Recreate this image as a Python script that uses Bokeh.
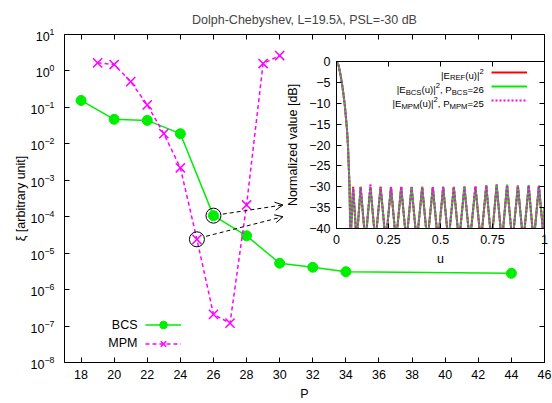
from bokeh.plotting import figure
from bokeh.models import (LinearAxis, LogAxis, FixedTicker, Legend, LegendItem,
                          Label, Arrow, OpenHead, Range1d, CustomJSTickFormatter)
from bokeh.layouts import column
from bokeh.embed import file_html
from bokeh.resources import INLINE

FONT = "Liberation Sans"

# ---------------- data ----------------
title_text = "Dolph-Chebyshev, L=19.5\u03bb, PSL=-30 dB"

bcs_P = [18, 20, 22, 24, 26, 28, 30, 32, 34, 44]
bcs_xi = [0.155, 0.047, 0.044, 0.019, 1.07e-4, 3.0e-5, 5.3e-6, 4.1e-6, 3.1e-6, 2.8e-6]

mpm_P = [19, 20, 21, 22, 23, 24, 25, 26, 27, 28, 29, 30]
mpm_xi = [1.67, 1.5, 0.51, 0.117, 0.019, 0.0022, 2.4e-5, 2.1e-7, 1.2e-7, 2.1e-4, 1.6, 2.65]

x_ticks = list(range(18, 47, 2))
y_tick_exponents = list(range(-8, 2))

# highlighted solutions (BCS P=26, MPM P=25) and arrows to the inset
bcs_highlight_P = 26
mpm_highlight_P = 25
arrow_start_P = [26.56, 25.55]
arrow_start_xi = [1.18e-4, 2.9e-5]
arrow_end_P = [30.2, 30.2]
arrow_end_xi = [2.1e-4, 1.0e-4]

# inset: normalized power pattern [dB] versus u
main_u = [0.0, 0.01, 0.02, 0.03, 0.04, 0.05, 0.055, 0.0625, 0.066]
main_db = [0.0, -0.9, -3.4, -6.5, -10.5, -16.0, -20.0, -29.7, -40.0]
sl_peak_u = [0.080, 0.116, 0.163, 0.212, 0.262, 0.311, 0.361, 0.412, 0.463, 0.513,
             0.564, 0.615, 0.668, 0.720, 0.770, 0.820, 0.872, 0.924, 0.973]
sl_null_u = [0.067, 0.097, 0.139, 0.187, 0.237, 0.286, 0.336, 0.386, 0.437, 0.488,
             0.538, 0.589, 0.641, 0.694, 0.745, 0.795, 0.846, 0.898, 0.948, 0.998]
ref_peak_db = [-30.0, -30.0, -30.0, -30.0, -30.1, -30.0, -30.1, -30.0, -30.1, -30.0,
               -30.0, -30.0, -30.0, -29.8, -29.6, -29.6, -29.7, -29.8, -29.8]
bcs_peak_db = [-30.3, -30.0, -30.2, -30.1, -30.0, -30.1, -30.0, -30.0, -30.1, -30.0,
               -30.1, -29.9, -30.0, -29.6, -29.4, -29.5, -29.7, -29.6, -29.7]
mpm_peak_db = [-30.4, -30.1, -29.2, -30.0, -30.1, -30.0, -30.1, -30.1, -30.0, -30.1,
               -30.0, -30.0, -29.9, -29.7, -29.5, -29.6, -29.8, -29.7, -29.8]
end_u = [1.0]
end_db = [-35.0]

inset_x_ticks = [0, 0.25, 0.5, 0.75, 1]
inset_x_labels = ["0", "0.25", "0.5", "0.75", "1"]
inset_y_ticks = list(range(-40, 1, 5))

legend_rows = [
    [("|E", "n"), ("REF", "sub"), ("(u)|", "n"), ("2", "sup")],
    [("|E", "n"), ("BCS", "sub"), ("(u)|", "n"), ("2", "sup"), (", P", "n"), ("BCS", "sub"), ("=26", "n")],
    [("|E", "n"), ("MPM", "sub"), ("(u)|", "n"), ("2", "sup"), (", P", "n"), ("MPM", "sub"), ("=25", "n")],
]
main_legend_labels = ["BCS", "MPM"]

# ---------------- helpers ----------------
GREEN = "#00ee00"
MAGENTA = "#ff00ff"
RED = "#ff0000"
FS = "12.5px"

NULL_DB = -46.0     # below the inset frame (clipped)
BASE_FRAC = 0.75    # where a lobe crosses the -40 dB floor


def pattern(peak_db):
    u = list(main_u)
    d = list(main_db)
    for i, (pu, pd) in enumerate(zip(sl_peak_u, peak_db)):
        ln, rn = sl_null_u[i], sl_null_u[i + 1]
        u += [ln, pu - BASE_FRAC * (pu - ln), pu, pu + BASE_FRAC * (rn - pu)]
        d += [NULL_DB, -40.0, pd, -40.0]
    u += [sl_null_u[-1]] + end_u
    d += [NULL_DB] + end_db
    return u, d


ARIAL_W = {'|': 0.26, 'E': 0.667, 'R': 0.722, 'F': 0.611, 'B': 0.667, 'C': 0.722,
           'S': 0.667, 'M': 0.833, 'P': 0.667, '(': 0.333, ')': 0.333, 'u': 0.556,
           ',': 0.278, ' ': 0.278, '=': 0.584}


def tw(s, size):
    return sum(ARIAL_W.get(c, 0.556) for c in s) * size


def rich_label(fig, pieces, right_x, base_y, size):
    sizes = [size * (0.8 if k != "n" else 1.0) for _, k in pieces]
    total = sum(tw(t, s) for (t, _), s in zip(pieces, sizes))
    x = right_x - total
    for (t, k), s in zip(pieces, sizes):
        dy = {"n": 0.0, "sub": -2.6, "sup": 4.2}[k]
        lead = len(t) - len(t.lstrip())
        fig.add_layout(Label(x=x + tw(" " * lead, s), y=base_y + dy,
                             x_units="screen", y_units="screen", text=t.strip(),
                             text_font=FONT, text_font_size=f"{s:.2f}px",
                             text_baseline="alphabetic", text_align="left",
                             text_color="black"))
        x += tw(t, s)


def style_axis(ax, font_size=FS):
    ax.axis_line_color = "black"
    ax.major_tick_line_color = "black"
    ax.minor_tick_line_color = "black"
    ax.major_tick_in = 5
    ax.major_tick_out = 0
    ax.minor_tick_in = 3
    ax.minor_tick_out = 0
    ax.major_label_text_font = FONT
    ax.major_label_text_font_size = font_size
    ax.major_label_text_color = "black"
    ax.axis_label_text_font = FONT
    ax.axis_label_text_font_size = FS
    ax.axis_label_text_font_style = "normal"
    ax.axis_label_text_color = "black"


def mirror(ax):
    style_axis(ax, "2px")
    ax.formatter = CustomJSTickFormatter(code="return ''")
    ax.major_label_standoff = 0
    return ax


# column() aligns the side borders of its plots, so both use the same ones
BORDER_L = 64
BORDER_R = 8

# ---------------- main figure ----------------
p = figure(width=552, height=403, x_range=Range1d(17, 46), y_range=Range1d(1e-8, 10),
           y_axis_type="log", output_backend="svg", toolbar_location=None,
           min_border_left=BORDER_L, min_border_right=BORDER_R, min_border_top=34,
           min_border_bottom=41)
p.outline_line_color = "black"
p.xgrid.grid_line_color = None
p.ygrid.grid_line_color = None
p.background_fill_color = "white"

p.title.text = title_text
p.title.align = "center"
p.title.offset = 8
p.title.text_font = FONT
p.title.text_font_size = FS
p.title.text_font_style = "normal"
p.title.standoff = 15

y_ticks = [10.0 ** e for e in y_tick_exponents]
xb = p.xaxis[0]
xb.ticker = FixedTicker(ticks=x_ticks)
xb.axis_label = "P"
style_axis(xb)
xb.major_label_standoff = 7
xb.axis_label_standoff = 5

yl = p.yaxis[0]
yl.ticker = FixedTicker(ticks=y_ticks)
yl.axis_label = "\u03be [arbitrary unit]"
style_axis(yl)
yl.major_label_standoff = 10
yl.axis_label_standoff = 0

p.add_layout(mirror(LinearAxis(ticker=FixedTicker(ticks=x_ticks))), "above")
p.add_layout(mirror(LogAxis(ticker=FixedTicker(ticks=y_ticks))), "right")

bcs_line = p.line(bcs_P, bcs_xi, line_color=GREEN, line_width=1.5)
bcs_pts = p.scatter(bcs_P, bcs_xi, marker="circle", size=10, fill_color=GREEN,
                    line_color=GREEN)
mpm_line = p.line(mpm_P, mpm_xi, line_color=MAGENTA, line_width=1.5, line_dash="4 3")
mpm_pts = p.scatter(mpm_P, mpm_xi, marker="x", size=13, line_color=MAGENTA, line_width=1.5)

hl_P = [bcs_highlight_P, mpm_highlight_P]
hl_xi = [bcs_xi[bcs_P.index(bcs_highlight_P)], mpm_xi[mpm_P.index(mpm_highlight_P)]]
p.scatter(hl_P, hl_xi, marker="circle", size=15, fill_color=None, line_color="black",
          line_width=1)

for xs, ys, xe, ye in zip(arrow_start_P, arrow_start_xi, arrow_end_P, arrow_end_xi):
    p.add_layout(Arrow(x_start=xs, y_start=ys, x_end=xe, y_end=ye, line_color="black",
                       line_width=1, line_dash="4 3",
                       end=OpenHead(size=8, line_color="black", line_width=1)))

main_leg = Legend(items=[LegendItem(label="BCS", renderers=[bcs_line, bcs_pts]),
                         LegendItem(label="MPM", renderers=[mpm_line, mpm_pts])],
                  location=(81, 9), glyph_width=36, glyph_height=19, label_height=19,
                  label_width=1, label_standoff=0, padding=0, margin=0, spacing=0,
                  border_line_color=None, background_fill_alpha=0,
                  label_text_font_size="1px", label_text_alpha=0)
p.add_layout(main_leg)
for lab, yy in zip(main_legend_labels, [38, 19.3]):
    p.add_layout(Label(x=73, y=yy, x_units="screen", y_units="screen", text=lab,
                       text_font=FONT, text_font_size=FS, text_align="right",
                       text_baseline="middle", text_color="black"))

# ---------------- inset figure ----------------
q = figure(frame_width=208, frame_height=167, x_range=Range1d(0, 1), y_range=Range1d(-40, 0),
           output_backend="svg", toolbar_location=None,
           min_border_left=BORDER_L, min_border_right=BORDER_R, min_border_top=6,
           min_border_bottom=50, margin=(-348, 0, 0, 336 - BORDER_L))
q.outline_line_color = "black"
q.xgrid.grid_line_color = None
q.ygrid.grid_line_color = None
q.background_fill_color = "white"
q.border_fill_color = None
q.border_fill_alpha = 0

qx = q.xaxis[0]
qx.ticker = FixedTicker(ticks=inset_x_ticks)
qx.formatter = CustomJSTickFormatter(
    args=dict(vals=inset_x_ticks, labs=inset_x_labels),
    code="const i = vals.indexOf(tick); return i >= 0 ? labs[i] : String(tick);")
qx.axis_label = "u"
style_axis(qx)
qx.major_label_standoff = 6
qx.axis_label_standoff = 5

qy = q.yaxis[0]
qy.ticker = FixedTicker(ticks=inset_y_ticks)
qy.axis_label = "Normalized value [dB]"
style_axis(qy)
qy.major_label_standoff = 6
qy.axis_label_standoff = 6

q.add_layout(mirror(LinearAxis(ticker=FixedTicker(ticks=inset_x_ticks))), "above")
q.add_layout(mirror(LinearAxis(ticker=FixedTicker(ticks=inset_y_ticks))), "right")

ru, rd = pattern(ref_peak_db)
bu, bd = pattern(bcs_peak_db)
mu, md = pattern(mpm_peak_db)
ref_r = q.line(ru, rd, line_color=RED, line_width=2)
bcs_r = q.line(bu, bd, line_color=GREEN, line_width=2)
mpm_r = q.line(mu, md, line_color=MAGENTA, line_width=2, line_dash="2 2")

q_leg = Legend(items=[LegendItem(label="REF", renderers=[ref_r]),
                      LegendItem(label="BCS", renderers=[bcs_r]),
                      LegendItem(label="MPM", renderers=[mpm_r])],
               location=(155, 121), glyph_width=36, glyph_height=14, label_height=14,
               label_width=1, label_standoff=0, padding=0, margin=0, spacing=0,
               border_line_color=None, background_fill_alpha=0,
               label_text_font_size="1px", label_text_alpha=0)
q.add_layout(q_leg)
for row, base_y in zip(legend_rows, [153.2, 139.1, 124.9]):
    rich_label(q, row, 147.3, base_y, 9.6)

layout = column(p, q, spacing=0)
open("out.html", "w").write(file_html(layout, INLINE))
